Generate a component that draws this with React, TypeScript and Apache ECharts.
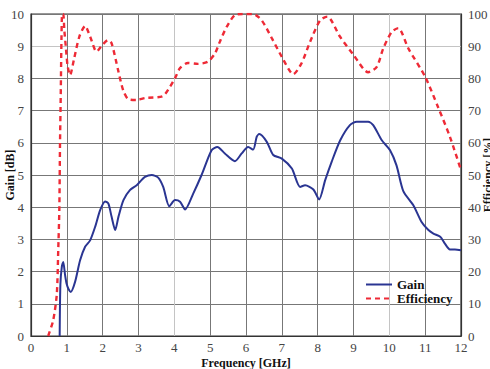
import React, { useEffect, useRef } from "react";
import * as echarts from "echarts";

const gainFreq = [0.8, 0.82, 0.86, 0.9, 0.95, 0.99, 1.05, 1.11, 1.23, 1.37, 1.51, 1.65, 1.79, 1.93, 2.07, 2.16, 2.25, 2.35, 2.44, 2.58, 2.76, 2.95, 3.04, 3.18, 3.37, 3.55, 3.69, 3.86, 4.02, 4.16, 4.3, 4.53, 4.76, 5.04, 5.2, 5.41, 5.69, 5.88, 6.06, 6.2, 6.3, 6.37, 6.58, 6.76, 7.0, 7.28, 7.51, 7.65, 7.88, 8.04, 8.21, 8.39, 8.63, 8.9, 9.09, 9.41, 9.55, 9.79, 10.02, 10.2, 10.39, 10.67, 10.9, 11.09, 11.23, 11.42, 11.55, 11.69, 11.83, 12];
const gainValues = [0, 1.6, 2.15, 2.3, 1.9, 1.64, 1.45, 1.37, 1.68, 2.35, 2.77, 2.97, 3.39, 3.91, 4.18, 4.11, 3.7, 3.29, 3.7, 4.22, 4.53, 4.68, 4.79, 4.94, 5.0, 4.92, 4.63, 4.03, 4.22, 4.17, 3.93, 4.43, 5.0, 5.77, 5.87, 5.67, 5.43, 5.67, 5.87, 5.79, 6.19, 6.27, 6.03, 5.62, 5.51, 5.2, 4.63, 4.68, 4.55, 4.24, 4.84, 5.41, 6.08, 6.55, 6.65, 6.65, 6.55, 6.08, 5.77, 5.3, 4.5, 4.06, 3.54, 3.29, 3.18, 3.08, 2.87, 2.69, 2.69, 2.66];

const effFreq = [0.48, 0.62, 0.72, 0.76, 0.79, 0.81, 0.83, 0.85, 0.87, 0.9, 0.93, 0.97, 1.02, 1.09, 1.2, 1.35, 1.51, 1.65, 1.83, 2.0, 2.15, 2.25, 2.43, 2.57, 2.71, 2.95, 3.18, 3.68, 3.88, 4.02, 4.16, 4.38, 4.66, 4.94, 5.14, 5.27, 5.46, 5.69, 5.9, 6.2, 6.44, 6.72, 7.0, 7.32, 7.55, 7.79, 8.07, 8.27, 8.62, 9.0, 9.41, 9.65, 9.83, 10.07, 10.25, 10.53, 11.0, 11.37, 11.69, 12];
const effValues = [0, 4.9, 13, 26.6, 39, 60, 75, 92, 100, 100, 95, 90, 84, 81, 86, 93, 96.3, 93, 88.3, 90.5, 91.9, 90.9, 82.6, 76.4, 73.6, 73.3, 73.9, 74.5, 77.4, 80.1, 83.2, 84.8, 84.5, 85.2, 87.9, 91.4, 96, 99.7, 100, 100, 98, 92.5, 86.7, 81.3, 84.7, 91.4, 98.1, 99.2, 93, 87.3, 81.9, 83.6, 89.3, 94.5, 95.6, 89.3, 80.5, 70.8, 61.9, 51.5];

const xTicks = { min: 0, max: 12, interval: 1 };
const gainTicks = { min: 0, max: 10, interval: 1 };
const effTicks = { min: 0, max: 100, interval: 10 };

const FONT = "'Liberation Serif', 'Times New Roman', 'DejaVu Serif', serif";

export default function App() {
  const ref = useRef<HTMLDivElement>(null);
  useEffect(() => {
    if (!ref.current) return;
    const chart = echarts.init(ref.current, null, { renderer: "svg" });
    const dark = "#777";
    const light = "#c4c4c4";
    const xColors = Array.from({ length: 13 }, (_, i) => (i === 4 || i === 10 ? light : dark));
    const yColors = Array.from({ length: 11 }, (_, i) => (i === 9 ? light : dark));
    const nameStyle = { fontFamily: FONT, fontWeight: "bold", fontSize: 12, color: "#111" };
    const labelStyle = { fontFamily: FONT, fontSize: 13, color: "#444" };
    chart.setOption({
      animation: false,
      backgroundColor: "#fff",
      grid: {
        left: 31, right: 29, top: 14, bottom: 33,
        containLabel: false, outerBoundsMode: "none",
        show: true, borderColor: "#333", borderWidth: 1.2,
      },
      legend: {
        orient: "vertical",
        left: 360,
        top: 273,
        itemWidth: 26,
        itemHeight: 10,
        itemGap: 1,
        itemStyle: { opacity: 0, borderWidth: 0 },
        textStyle: { fontFamily: FONT, fontWeight: "bold", fontSize: 13, color: "#111" },
        data: ["Gain", "Efficiency"],
      },
      xAxis: {
        type: "value",
        ...xTicks,
        name: "Frequency [GHz]",
        nameLocation: "middle",
        nameGap: 21,
        nameMoveOverlap: false,
        nameTextStyle: nameStyle,
        axisLine: { show: true, lineStyle: { color: "#333", width: 1.2 } },
        axisTick: { show: false },
        axisLabel: { ...labelStyle, margin: 5 },
        splitLine: { show: true, lineStyle: { color: xColors, width: 1 } },
      },
      yAxis: [
        {
          type: "value",
          position: "left",
          ...gainTicks,
          name: "Gain [dB]",
          nameLocation: "middle",
          nameRotate: 90,
          nameGap: 15,
          nameMoveOverlap: false,
          nameTextStyle: nameStyle,
          axisLine: { show: true, lineStyle: { color: "#333", width: 1.2 } },
          axisTick: { show: false },
          axisLabel: { ...labelStyle, margin: 7 },
          splitLine: { show: true, lineStyle: { color: yColors, width: 1 } },
        },
        {
          type: "value",
          position: "right",
          ...effTicks,
          name: "Efficiency [%]",
          nameLocation: "middle",
          nameRotate: 90,
          nameGap: 21,
          nameMoveOverlap: false,
          nameTextStyle: nameStyle,
          axisLine: { show: true, lineStyle: { color: "#333", width: 1.2 } },
          axisTick: { show: false },
          axisLabel: { ...labelStyle, margin: 7 },
          splitLine: { show: false },
        },
      ],
      series: [
        {
          name: "Gain",
          type: "line",
          yAxisIndex: 0,
          data: gainFreq.map((f, i) => [f, gainValues[i]]),
          showSymbol: false,
          symbol: "none",
          smooth: 0.25,
          lineStyle: { color: "#2a3592", width: 2 },
          itemStyle: { color: "#2a3592" },
          z: 3,
        },
        {
          name: "Efficiency",
          type: "line",
          yAxisIndex: 1,
          data: effFreq.map((f, i) => [f, effValues[i]]),
          showSymbol: false,
          symbol: "none",
          smooth: 0.25,
          lineStyle: { color: "#ee2a36", width: 2.4, type: [5, 4] },
          itemStyle: { color: "#ee2a36" },
          z: 4,
        },
      ],
    });
    return () => chart.dispose();
  }, []);
  return <div ref={ref} style={{ width: 490, height: 369, position: "absolute", left: 0, top: 0 }} />;
}
